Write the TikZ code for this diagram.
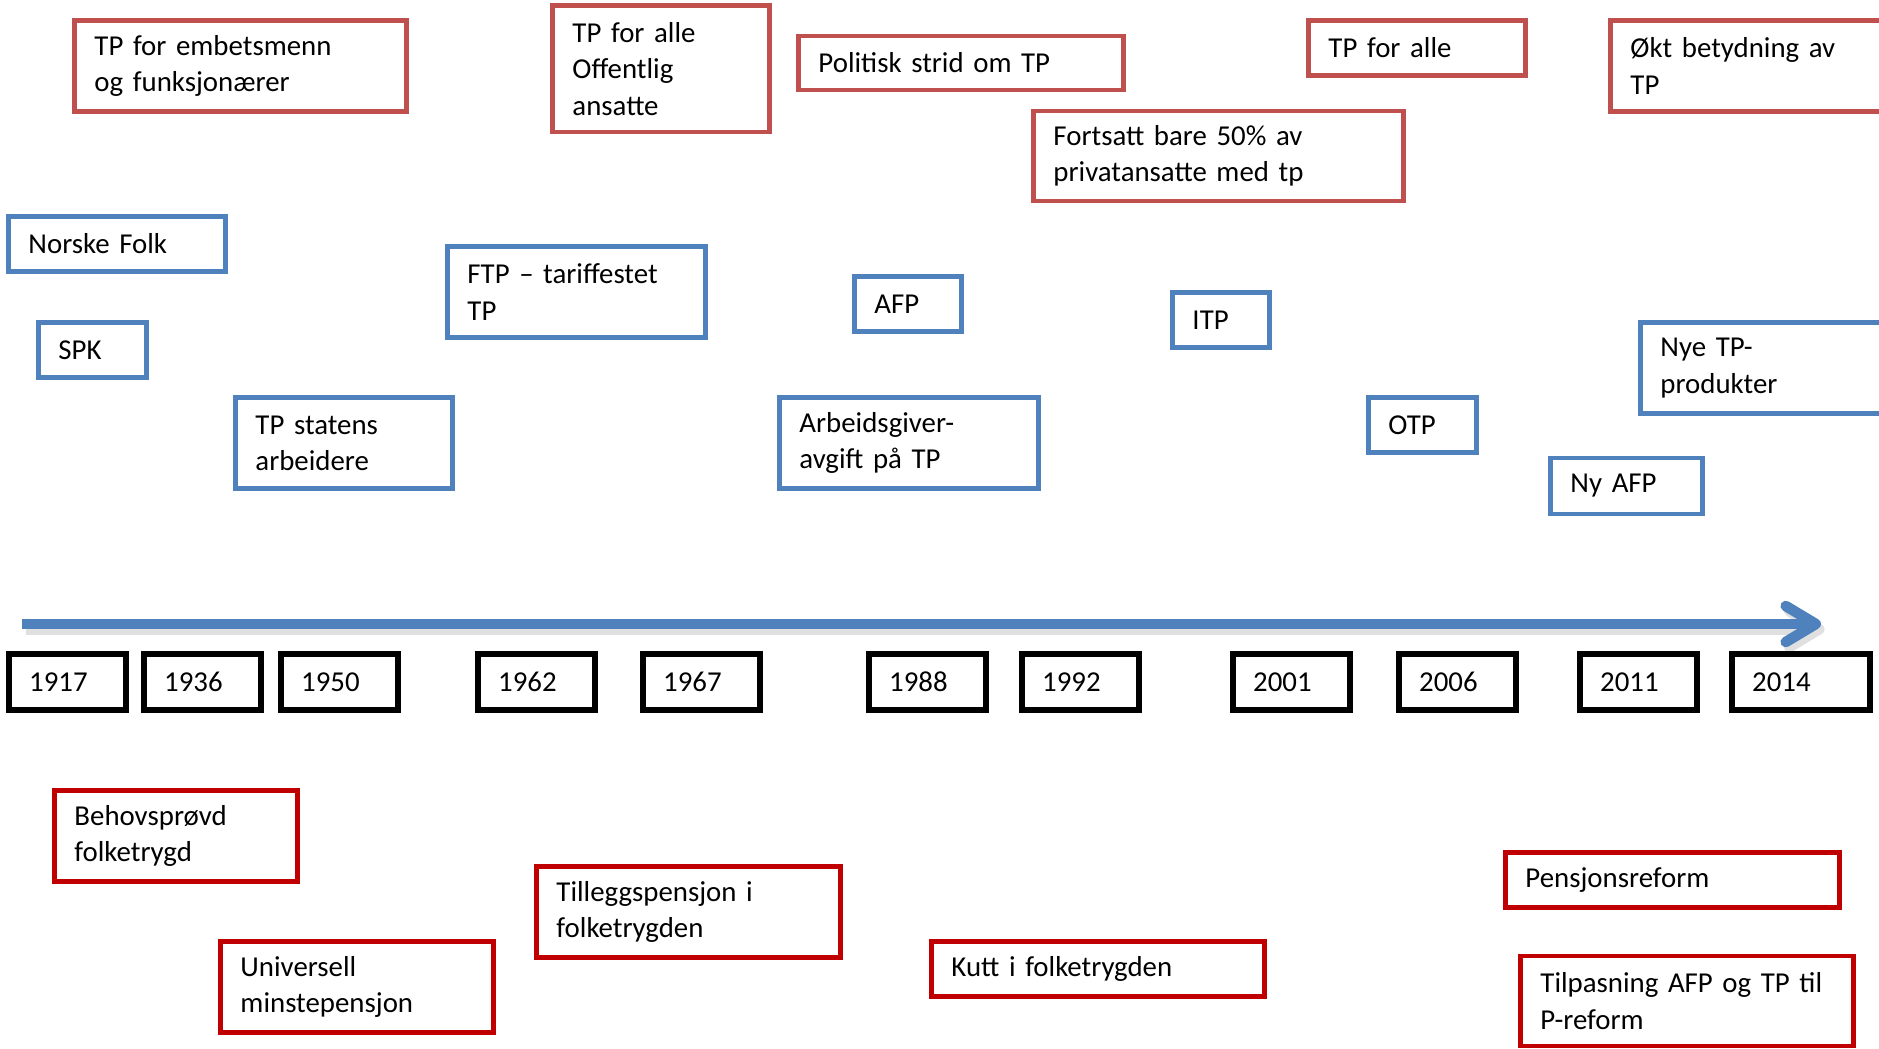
\documentclass[tikz,border=0pt]{standalone}
\usepackage{fontspec}
\setmainfont{Carlito}
\usepackage{tikz}
\usetikzlibrary{arrows.meta}
\definecolor{tpred}{HTML}{C0504D}
\definecolor{ftred}{HTML}{C00000}
\definecolor{tpblue}{HTML}{4F81BD}
\tikzset{ev/.style={draw, line width=1.4pt, rectangle, anchor=west, align=left, inner xsep=.2cm, inner ysep=0pt, font=\fontsize{8.2}{10.3}\selectfont}}
\tikzset{tp/.style={ev, draw=tpred}, tpb/.style={ev, draw=tpblue}, ft/.style={ev, draw=ftred}}
\tikzset{yrbox/.style={ev, draw=black, line width=1.8pt, text width=.77cm, minimum height=.56cm}}
\tikzset{tline/.style={tpblue, line width=3pt, -{Straight Barb[length=.3cm, width=.36cm, round]}}, tshadow/.style={black!12, line width=3pt, -{Straight Barb[length=.3cm, width=.36cm, round]}}}

\begin{document}
\begin{tikzpicture}[x = .01cm, y = -.01cm]
\useasboundingbox (0, 0) rectangle (1879, 1049);
 \node[tp, text width=2.92cm, minimum height=.91cm] (emb) at (72, 66) {TP for embetsmenn\\og funksjonærer};
 \node[tp, text width=1.77cm, minimum height=1.26cm] (off) at (550, 69) {TP for alle\\Offentlig\\ansatte};
 \node[tp, text width=2.85cm, minimum height=.54cm] (strid) at (796, 63) {Politisk strid om TP};
 \node[tp, text width=1.77cm, minimum height=.55cm] (alle) at (1306, 48) {TP for alle};
 \node[tp, text width=2.5cm, minimum height=.91cm] (okt) at (1608, 66) {Økt betydning av\\TP};
 \node[tp, text width=3.3cm, minimum height=.9cm] (halv) at (1031, 156) {Fortsatt bare 50\% av\\privatansatte med tp};

 \node[tpb, text width=1.77cm, minimum height=.55cm] (norske) at (6, 244) {Norske Folk};
 \node[tpb, text width=.68cm, minimum height=.55cm] (spk) at (36, 350) {SPK};
 \node[tpb, text width=1.77cm, minimum height=.91cm] (statens) at (233, 443) {TP statens\\arbeidere};
 \node[tpb, text width=2.18cm, minimum height=.91cm] (ftp) at (445, 292) {FTP – tariffestet\\TP};
 \node[tpb, text width=.67cm, minimum height=.55cm] (afp) at (852, 304) {AFP};
 \node[tpb, text width=2.19cm, minimum height=.91cm] (avgift) at (777, 443) {Arbeidsgiver-\\avgift på TP};
 \node[tpb, text width=.57cm, minimum height=.55cm] (itp) at (1170, 320) {ITP};
 \node[tpb, text width=.68cm, minimum height=.55cm] (otp) at (1366, 425) {OTP};
 \node[tpb, text width=2.2cm, minimum height=.91cm] (nye) at (1638, 368) {Nye TP-\\produkter};
 \node[tpb, text width=1.12cm, minimum height=.56cm] (nyafp) at (1548, 486) {Ny AFP};

 \coordinate (tstart) at (22, 624);
 \coordinate (tend) at (1821, 624);
 \draw[tshadow] ([xshift=1pt, yshift=-1.5pt]tstart) -- ([xshift=1pt, yshift=-1.5pt]tend);
 \draw[tline] (tstart) -- (tend);

 \node[yrbox] (y1917) at (6, 682) {1917};
 \node[yrbox] (y1936) at (141, 682) {1936};
 \node[yrbox] (y1950) at (278, 682) {1950};
 \node[yrbox] (y1962) at (475, 682) {1962};
 \node[yrbox] (y1967) at (640, 682) {1967};
 \node[yrbox] (y1988) at (866, 682) {1988};
 \node[yrbox] (y1992) at (1019, 682) {1992};
 \node[yrbox] (y2001) at (1230, 682) {2001};
 \node[yrbox] (y2006) at (1396, 682) {2006};
 \node[yrbox] (y2011) at (1577, 682) {2011};
 \node[yrbox, text width=.98cm] (y2014) at (1729, 682) {2014};

 \node[ft, text width=2.03cm, minimum height=.91cm] (behov) at (52, 836) {Behovsprøvd\\folketrygd};
 \node[ft, text width=2.33cm, minimum height=.91cm] (minste) at (218, 987) {Universell\\minstepensjon};
 \node[ft, text width=2.64cm, minimum height=.91cm] (tillegg) at (534, 912) {Tilleggspensjon i\\folketrygden};
 \node[ft, text width=2.93cm, minimum height=.55cm] (kutt) at (929, 969) {Kutt i folketrygden};
 \node[ft, text width=2.94cm, minimum height=.55cm] (reform) at (1503, 880) {Pensjonsreform};
 \node[ft, text width=2.93cm, minimum height=.9cm] (tilpas) at (1518, 1001) {Tilpasning AFP og TP til\\P-reform};
\end{tikzpicture}
\end{document}
